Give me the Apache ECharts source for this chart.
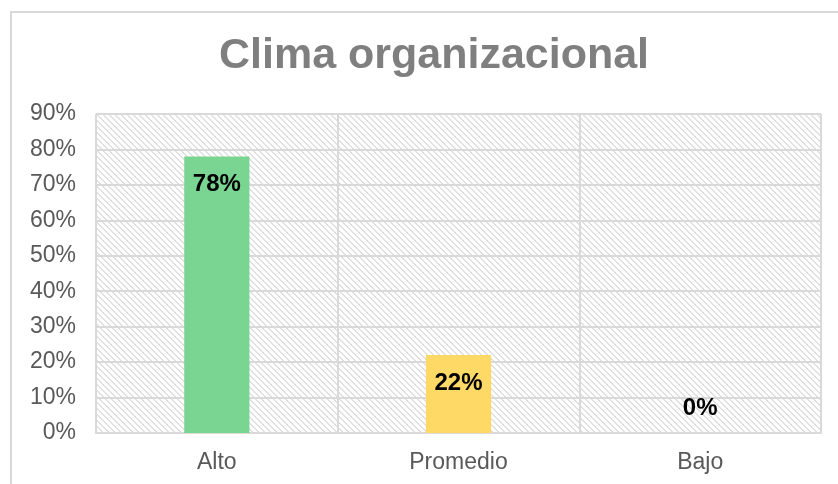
<!DOCTYPE html>
<html>
<head>
<meta charset="utf-8">
<script src="https://cdn.jsdelivr.net/npm/echarts@6/dist/echarts.min.js"></script>
<style>
  html, body { margin: 0; padding: 0; background: #fff; }
  #frame { position: absolute; left: 10px; top: 11px; width: 900px; height: 600px; border: 2px solid #d9d9d9; }
  #chart { position: absolute; left: 0; top: 0; width: 838px; height: 484px; }
</style>
</head>
<body>
<div id="frame"></div>
<div id="chart"></div>
<script>
  // datos
  var categorias = ['Alto', 'Promedio', 'Bajo'];
  var valores = [78, 22, 0];
  var colores = ['#7ad593', '#ffd966', '#a9a9a9'];
  var tituloTexto = 'Clima organizacional';

  // trama diagonal del fondo
  function hacerTrama() {
    var c = document.createElement('canvas');
    c.width = 6; c.height = 6;
    var ctx = c.getContext('2d');
    ctx.fillStyle = '#ffffff';
    ctx.fillRect(0, 0, 6, 6);
    ctx.fillStyle = '#e0e0e0';
    for (var y = 0; y < 6; y++) {
      for (var x = 0; x < 6; x++) {
        var d = ((x - y) % 6 + 6) % 6;
        if (d === 0 || d === 1) ctx.fillRect(x, y, 1, 1);
      }
    }
    return c;
  }

  var datos = valores.map(function (v, i) {
    var item = { value: v, itemStyle: { color: colores[i] } };
    if (v === 0) item.label = { position: 'top', distance: 13 };
    return item;
  });

  var option = {
    animation: false,
    title: {
      text: tituloTexto,
      left: 429,
      textAlign: 'center',
      top: 30,
      textStyle: { fontFamily: 'Liberation Sans', fontSize: 43, fontWeight: 'bold', color: '#7f7f7f' }
    },
    grid: {
      left: 96, right: 17, top: 114, bottom: 51,
      show: true,
      borderWidth: 0,
      backgroundColor: { image: hacerTrama(), repeat: 'repeat' }
    },
    xAxis: {
      type: 'category',
      data: categorias,
      axisTick: { show: false },
      axisLine: { lineStyle: { color: '#d9d9d9', width: 2 } },
      splitLine: { show: true, lineStyle: { color: '#d9d9d9', width: 2 } },
      axisLabel: { fontFamily: 'Liberation Sans', fontSize: 23, color: '#595959', margin: 18 }
    },
    yAxis: {
      type: 'value',
      min: 0, max: 90, interval: 10,
      axisLine: { show: false },
      axisTick: { show: false },
      splitLine: { lineStyle: { color: '#d9d9d9', width: 2 } },
      axisLabel: { formatter: '{value}%', fontFamily: 'Liberation Sans', fontSize: 23, color: '#595959', margin: 20 }
    },
    series: [{
      type: 'bar',
      data: datos,
      barWidth: '27%',
      label: {
        show: true,
        position: 'insideTop',
        distance: 16,
        formatter: '{c}%',
        fontFamily: 'Liberation Sans',
        fontSize: 24,
        fontWeight: 'bold',
        color: '#000'
      }
    }]
  };

  echarts.init(document.getElementById('chart')).setOption(option);
</script>
</body>
</html>
